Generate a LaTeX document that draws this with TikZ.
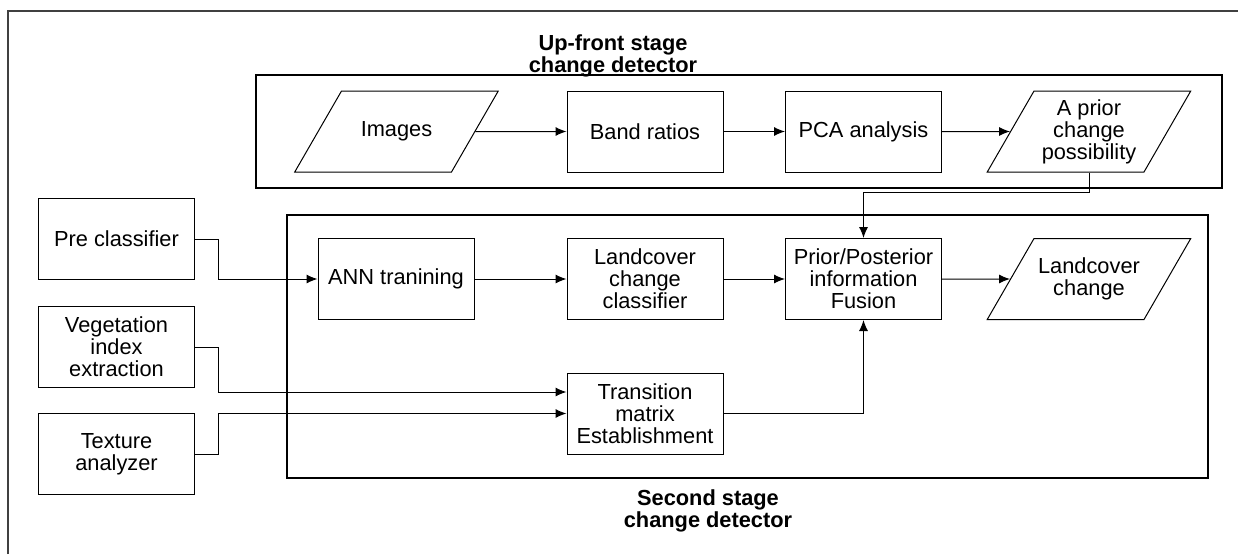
\documentclass[tikz,border=0pt]{standalone}
\usepackage{fontspec}
\setmainfont{Liberation Sans}
\usepackage{tikz}
\usetikzlibrary{arrows.meta,shapes.geometric}
\tikzset{
    process-box/.style = {draw, rectangle, line width=0.5pt, minimum width=78pt, minimum height=40.5pt, inner sep=2pt, align=center, font=\fontsize{10.9}{11}\selectfont},
    data-box/.style = {draw, trapezium, trapezium left angle=60, trapezium right angle=120, line width=0.5pt, inner xsep=2pt, inner ysep=3.25pt, font=\fontsize{10.9}{11}\selectfont,
        execute at begin node={\begin{minipage}[c][34pt][c]{51pt}\centering},
        execute at end node={\end{minipage}}},
    stage-frame/.style = {draw, line width=0.8pt},
    stage-title/.style = {align=center, font=\fontsize{10.9}{11}\selectfont\bfseries},
    flow-arrow/.style = {-{Latex[length=5.5pt,width=4.5pt]}, line width=0.5pt},
}

\begin{document}
\begin{tikzpicture}[x=0.5pt, y=0.5pt]
\useasboundingbox (0,0) rectangle (1238,554);
\draw[black!75, line width=0.6pt] (8,0) -- (8,543) -- (1238,543);

% up-front stage
\draw[stage-frame] (256,479) rectangle (1222,366);
\node[stage-title] (up-title) at (613,498) {Up-front stage\\change detector};
\node[data-box] (images) at (396.5,422.5) {Images};
\node[process-box] (band) at (645,422.5) {Band ratios};
\node[process-box] (pca) at (863.5,422.5) {PCA analysis};
\node[data-box] (prior) at (1089,422.5) {A prior\\change\\possibility};

% second stage
\draw[stage-frame, line width=0.6pt] (287,339) rectangle (1208,76);
\node[stage-title] (second-title) at (708,43) {Second stage\\change detector};
\node[process-box] (ann) at (396,275) {ANN tranining};
\node[process-box] (classifier) at (645,275) {Landcover\\change\\classifier};
\node[process-box] (fusion) at (863.5,275) {Prior/Posterior\\information\\Fusion};
\node[data-box] (change) at (1089,275) {Landcover\\change};
\node[process-box] (transition) at (645,140.5) {Transition\\matrix\\Establishment};

% inputs
\node[process-box] (pre) at (116.5,315) {Pre classifier};
\node[process-box] (veg) at (116.5,207) {Vegetation\\index\\extraction};
\node[process-box] (texture) at (116.5,100) {Texture\\analyzer};

\draw[flow-arrow] (images.east) -- (band.west);
\draw[flow-arrow] (band.east) -- (pca.west);
\draw[flow-arrow] (pca.east) -- (prior.west);
\draw[flow-arrow] (prior.south) -- ++(0,-20) -| (fusion.north);
\draw[flow-arrow] (ann.east) -- (classifier.west);
\draw[flow-arrow] (classifier.east) -- (fusion.west);
\draw[flow-arrow] (fusion.east) -- (change.west);
\draw[flow-arrow] (transition.east) -| (fusion.south);
\draw[flow-arrow] (pre.east) -- ++(23,0) |- (ann.west);
\draw[flow-arrow] (veg.east) -- ++(23,0) |- ([yshift=10.75pt]transition.west);
\draw[flow-arrow] (texture.east) -- ++(23,0) |- (transition.west);
\end{tikzpicture}
\end{document}
